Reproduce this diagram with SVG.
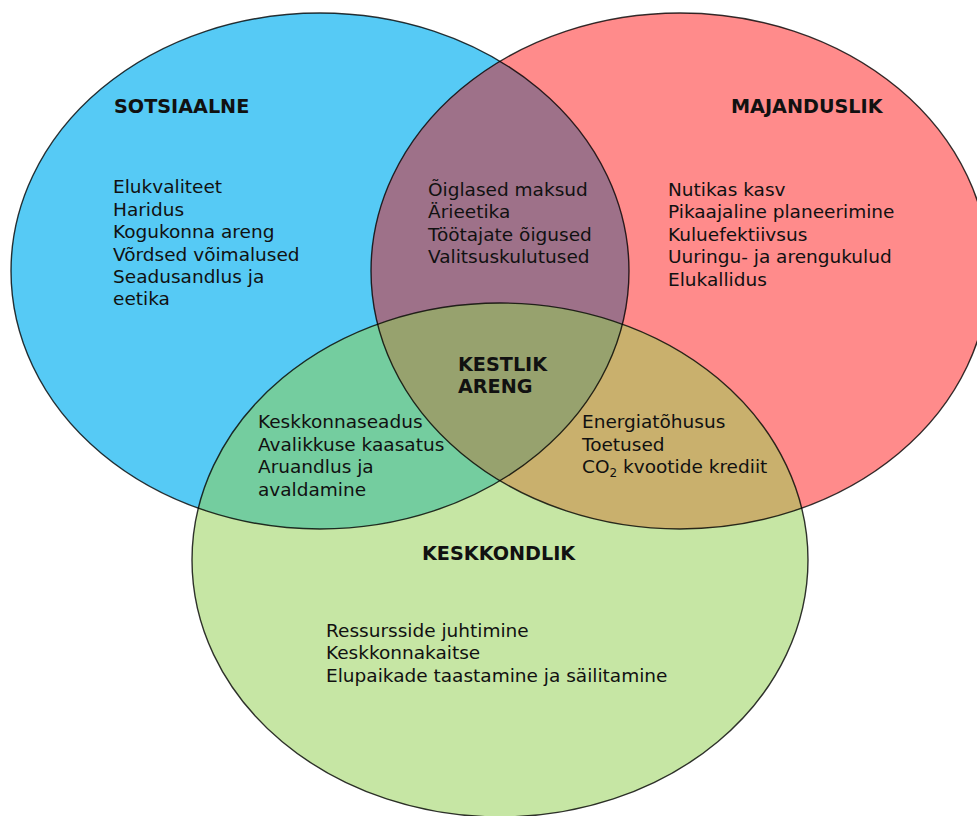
<svg xmlns="http://www.w3.org/2000/svg" width="977" height="816" viewBox="0 0 977 816">
<style>
text{font-family:"DejaVu Sans","Verdana",sans-serif;font-size:18.5px;fill:#111}
.h{font-weight:bold;font-size:19.2px}
.o{fill:none;stroke:#000;stroke-opacity:0.8;stroke-width:1.4}
</style>
<defs>
<ellipse id="eB" cx="320" cy="271" rx="309" ry="258"/>
<ellipse id="eR" cx="680" cy="271" rx="309" ry="258"/>
<ellipse id="eG" cx="500" cy="560" rx="308" ry="257"/>
<clipPath id="cB"><use href="#eB"/></clipPath>
<clipPath id="cR"><use href="#eR"/></clipPath>
</defs>
<rect width="977" height="816" fill="#fff"/>
<g id="fills">
<use href="#eB" fill="#56CAF5"/>
<use href="#eR" fill="#FF8B8B"/>
<use href="#eG" fill="#C6E6A4"/>
</g>
<g id="overlaps">
<use href="#eR" fill="#9E7189" clip-path="url(#cB)"/>
<use href="#eG" fill="#74CD9F" clip-path="url(#cB)"/>
<use href="#eG" fill="#C9B06D" clip-path="url(#cR)"/>
<g clip-path="url(#cR)"><use href="#eG" fill="#97A26E" clip-path="url(#cB)"/></g>
</g>
<g id="outlines">
<use href="#eB" class="o"/>
<use href="#eR" class="o"/>
<use href="#eG" class="o"/>
</g>
<g id="sotsiaalne">
<text class="h" x="114" y="112.7">SOTSIAALNE</text>
<text x="113" y="193.3">Elukvaliteet</text>
<text x="113" y="215.7">Haridus</text>
<text x="113" y="238">Kogukonna areng</text>
<text x="113" y="260.5">Võrdsed võimalused</text>
<text x="113" y="283">Seadusandlus ja</text>
<text x="113" y="305.3">eetika</text>
</g>
<g id="majanduslik">
<text class="h" x="731" y="112.7">MAJANDUSLIK</text>
<text x="668" y="196">Nutikas kasv</text>
<text x="668" y="218.3">Pikaajaline planeerimine</text>
<text x="668" y="240.7">Kuluefektiivsus</text>
<text x="668" y="263.1">Uuringu- ja arengukulud</text>
<text x="668" y="285.5">Elukallidus</text>
</g>
<g id="sots-maj">
<text x="428" y="196">Õiglased maksud</text>
<text x="428" y="218.3">Ärieetika</text>
<text x="428" y="240.7">Töötajate õigused</text>
<text x="428" y="263.1">Valitsuskulutused</text>
</g>
<g id="kestlik-areng">
<text class="h" x="458" y="371">KESTLIK</text>
<text class="h" x="458" y="393.4">ARENG</text>
</g>
<g id="sots-kesk">
<text x="258" y="428.3">Keskkonnaseadus</text>
<text x="258" y="450.7">Avalikkuse kaasatus</text>
<text x="258" y="473.1">Aruandlus ja</text>
<text x="258" y="495.5">avaldamine</text>
</g>
<g id="maj-kesk">
<text x="582" y="428.3">Energiatõhusus</text>
<text x="582" y="450.7">Toetused</text>
<text x="582" y="473.1">CO<tspan font-size="12" dy="4">2</tspan><tspan dy="-4"> kvootide krediit</tspan></text>
</g>
<g id="keskkondlik">
<text class="h" x="422" y="560">KESKKONDLIK</text>
<text x="326" y="636.7">Ressursside juhtimine</text>
<text x="326" y="659.1">Keskkonnakaitse</text>
<text x="326" y="681.5">Elupaikade taastamine ja säilitamine</text>
</g>
</svg>
